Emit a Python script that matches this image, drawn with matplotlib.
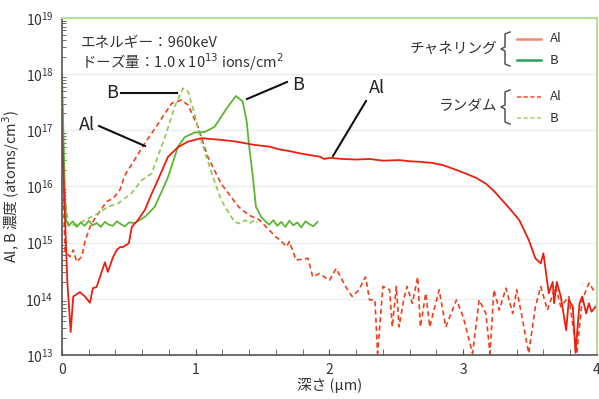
import numpy as np
import matplotlib.pyplot as plt
from matplotlib.lines import Line2D

plt.rcParams['font.family'] = ['Noto Sans CJK JP', 'DejaVu Sans']

# チャネリング Al (深さ µm, log10 濃度)
ch_al_d = [0.0, 0.02, 0.04, 0.065, 0.084, 0.134, 0.172, 0.209, 0.231, 0.259, 0.284,
           0.321, 0.343, 0.381, 0.41, 0.433, 0.455, 0.5, 0.522, 0.567, 0.619, 0.672,
           0.716, 0.793, 0.868, 0.943, 1.042, 1.19, 1.3, 1.44, 1.55, 1.627, 1.7,
           1.78, 1.85, 1.93, 1.96, 2.0, 2.1, 2.2, 2.3, 2.4, 2.52, 2.6,
           2.67, 2.77, 2.85, 2.92, 3.02, 3.1, 3.17, 3.23, 3.29, 3.35, 3.42, 3.49,
           3.54, 3.58, 3.60, 3.62,
           3.64, 3.67, 3.68, 3.70, 3.73, 3.77, 3.79, 3.82, 3.84, 3.87, 3.89, 3.92,
           3.94, 3.96, 3.99]
ch_al_c = [17.1, 15.6, 14.3, 13.41, 14.04, 14.12, 14.04, 13.93, 14.19, 14.21, 14.39,
           14.65, 14.48, 14.74, 14.87, 14.92, 14.92, 14.99, 15.28, 15.40, 15.58, 15.88,
           16.11, 16.53, 16.70, 16.80, 16.86, 16.83, 16.80, 16.74, 16.71, 16.66, 16.63,
           16.59, 16.56, 16.53, 16.49, 16.51, 16.49, 16.48, 16.49, 16.46, 16.47, 16.45,
           16.44, 16.42, 16.38, 16.32, 16.23, 16.15, 16.05, 15.92, 15.76, 15.60, 15.40,
           15.05, 14.72, 14.63, 14.81,
           14.45, 14.10, 14.30, 13.92, 14.30, 14.04, 13.44, 13.98, 13.86, 13.04, 13.92,
           14.04, 13.74, 13.92, 13.77, 13.86]

# チャネリング B
ch_b_d = [0.0, 0.01, 0.02, 0.03, 0.05, 0.08, 0.11, 0.14, 0.17, 0.2, 0.23, 0.26, 0.29,
          0.32, 0.35, 0.38, 0.41, 0.44, 0.47, 0.5, 0.545, 0.62, 0.694, 0.79, 0.868,
          0.918, 0.99, 1.067, 1.14, 1.24, 1.30, 1.35, 1.38, 1.40, 1.43, 1.45, 1.49,
          1.52, 1.55, 1.58, 1.61, 1.64, 1.67, 1.70, 1.73, 1.76, 1.79, 1.82, 1.85,
          1.88, 1.91]
ch_b_c = [18.0, 17.0, 16.0, 15.4, 15.3, 15.38, 15.28, 15.36, 15.30, 15.39, 15.31, 15.35,
          15.28, 15.37, 15.32, 15.30, 15.38, 15.33, 15.29, 15.36, 15.35, 15.46, 15.64,
          16.15, 16.71, 16.88, 16.96, 16.97, 17.06, 17.42, 17.61, 17.52, 17.18, 16.71,
          16.11, 15.64, 15.46, 15.38, 15.32, 15.40, 15.30, 15.37, 15.28, 15.39, 15.31,
          15.36, 15.27, 15.38, 15.33, 15.29, 15.37]

# ランダム Al
rn_al_d = [0.0, 0.022, 0.06, 0.084, 0.11, 0.147, 0.172, 0.209, 0.246, 0.333, 0.383,
           0.433, 0.47, 0.62, 0.72, 0.82, 0.893, 0.943, 1.017, 1.09, 1.19, 1.32, 1.39,
           1.478, 1.60, 1.63, 1.68, 1.70, 1.75, 1.84, 1.875, 1.925, 2.0, 2.05, 2.12,
           2.17, 2.22, 2.27, 2.30, 2.34, 2.36, 2.40, 2.45, 2.47, 2.50, 2.52, 2.56,
           2.58, 2.62, 2.66, 2.68, 2.72, 2.75, 2.82, 2.87, 2.95, 3.0, 3.07, 3.12,
           3.17, 3.20, 3.23, 3.27, 3.32, 3.37, 3.40, 3.44, 3.49, 3.54, 3.58, 3.63,
           3.69, 3.73, 3.79, 3.85, 3.89, 3.94, 3.99]
rn_al_c = [17.0, 14.84, 14.75, 14.87, 14.66, 14.75, 15.02, 15.28, 15.43, 15.73, 15.79,
           15.94, 16.2, 16.77, 17.12, 17.48, 17.54, 17.45, 17.06, 16.53, 16.05, 15.64,
           15.50, 15.40, 15.10, 15.05, 14.93, 15.02, 14.69, 14.72, 14.39, 14.45, 14.33,
           14.54, 14.22, 14.04, 14.16, 14.39, 13.98, 13.98, 13.03, 14.22, 14.16, 13.50,
           14.22, 13.50, 14.04, 14.22, 13.92, 14.39, 13.50, 14.10, 13.50, 14.16, 13.50,
           13.98, 13.68, 13.03, 13.98, 13.74, 13.03, 14.16, 13.80, 14.19, 13.74, 14.16,
           13.68, 13.03, 13.86, 14.22, 13.80, 14.22, 13.86, 14.04, 13.03, 13.98, 14.28,
           14.10]

# ランダム B
rn_b_d = [0.0, 0.02, 0.05, 0.1, 0.147, 0.196, 0.27, 0.345, 0.42, 0.52, 0.595, 0.67,
          0.77, 0.843, 0.905, 0.943, 0.99, 1.04, 1.12, 1.19, 1.25, 1.29, 1.33, 1.37,
          1.40, 1.44, 1.46]
rn_b_c = [17.6, 15.8, 15.3, 15.32, 15.37, 15.43, 15.52, 15.64, 15.70, 15.88, 16.11,
          16.23, 16.88, 17.42, 17.75, 17.69, 17.30, 16.83, 16.23, 15.76, 15.52, 15.37,
          15.34, 15.40, 15.34, 15.40, 15.36]

fig = plt.figure(figsize=(5.99, 3.99), dpi=100)
ax = fig.add_axes([0.1035, 0.1103, 0.893, 0.8446])

ax.plot(rn_al_d, 10 ** np.array(rn_al_c), color='#f0401e', lw=1.2, ls=(0, (3, 2)))
ax.plot(rn_b_d, 10 ** np.array(rn_b_c), color='#8cc850', lw=1.2, ls=(0, (3, 2)))
ax.plot(ch_b_d, 10 ** np.array(ch_b_c), color='#5db632', lw=1.3)
ax.plot(ch_al_d, 10 ** np.array(ch_al_c), color='#e8200f', lw=1.3)

ax.set_yscale('log')
ax.set_xlim(0, 4)
ax.set_ylim(1e13, 1e19)
ax.set_yticks([10.0 ** k for k in range(13, 20)])
ax.set_xticks([0, 1, 2, 3, 4])
ax.set_xticks(np.arange(0, 4.01, 0.2), minor=True)
ax.grid(axis='y', which='major', color='#eeeeee', lw=1.0)
ax.set_axisbelow(True)
ax.tick_params(axis='both', which='both', direction='in', colors='#555555',
               labelcolor='#333333', labelsize=10)
ax.tick_params(axis='x', which='both', length=4, pad=6)
ax.tick_params(axis='y', which='major', length=0, pad=6)
ax.tick_params(axis='y', which='minor', length=3)

for s in ['left', 'bottom']:
    ax.spines[s].set_color('#555555')
    ax.spines[s].set_linewidth(1.2)
for s in ['top', 'right']:
    ax.spines[s].set_color('#b8dc9c')
    ax.spines[s].set_linewidth(1.5)

ax.set_xlabel('深さ (µm)', fontsize=10.5, color='#333333', labelpad=0)
ax.set_ylabel('Al, B 濃度 (atoms/cm$^3$)', fontsize=10.5, color='#333333')
ax.yaxis.set_label_coords(-0.074, 0.5)

# 条件
fig.text(0.135, 0.893, 'エネルギー：960keV', fontsize=10.5, color='#333333', va='center')
fig.text(0.135, 0.845, 'ドーズ量：1.0 x 10$^{13}$ ions/cm$^2$', fontsize=10.5,
         color='#333333', va='center')

# 注釈
def note(text, tx, ty, x0, y0, x1, y1):
    fig.text(tx / 599, 1 - ty / 399, text, fontsize=13, color='#222222',
             ha='center', va='center')
    fig.add_artist(Line2D([x0 / 599, x1 / 599], [1 - y0 / 399, 1 - y1 / 399],
                          color='#111111', lw=1.5))

note('B', 112, 93, 121, 93, 177, 93)
note('Al', 87, 125, 99, 126, 145, 146)
note('B', 298, 85, 287, 82, 247, 99)
note('Al', 377, 88, 366, 101, 333, 156)

# 凡例
def brace(xr, ytop, ybot):
    ym = (ytop + ybot) / 2
    pts_x = [xr + 5, xr, xr, xr - 4, xr, xr, xr + 5]
    pts_y = [ytop, ytop + 2, ym - 2, ym, ym + 2, ybot - 2, ybot]
    fig.add_artist(Line2D([p / 599 for p in pts_x], [1 - p / 399 for p in pts_y],
                          color='#555555', lw=1.1))

def group(title, ty, c1, c2, ls):
    fig.text(497 / 599, 1 - ty / 399, title, fontsize=10.5, color='#333333',
             ha='right', va='center')
    brace(505, ty - 17, ty + 17)
    for yy, col, lab in [(ty - 10, c1, 'Al'), (ty + 11, c2, 'B')]:
        fig.add_artist(Line2D([517 / 599, 541 / 599], [1 - yy / 399, 1 - yy / 399],
                              color=col, lw=1.8 if ls == '-' else 1.2, ls=ls))
        fig.text(550 / 599, 1 - yy / 399, lab, fontsize=9.5, color='#333333',
                 va='center')

group('チャネリング', 49, '#f4896c', '#2ca05a', '-')
group('ランダム', 107, '#f05a3a', '#a8d870', (0, (2.5, 1.5)))

fig.savefig('out.png', dpi=100)
